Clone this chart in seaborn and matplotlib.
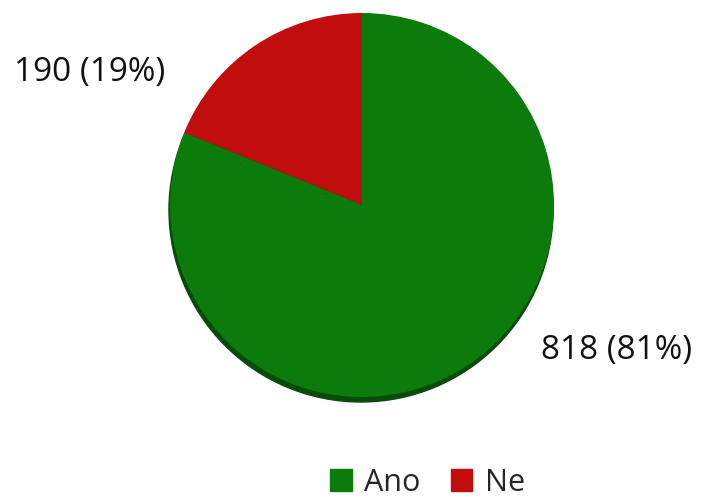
import matplotlib
matplotlib.use("Agg")
import matplotlib.pyplot as plt
from matplotlib.patches import Circle, Patch
import seaborn as sns

categories = ["Ne", "Ano"]
counts = [190, 818]
colors = ["#c10d0d", "#0b7b0b"]

sns.set_theme(style="white")
plt.rcParams["font.family"] = ["Open Sans", "DejaVu Sans"]

W, H = 702, 503
fig = plt.figure(figsize=(W / 100, H / 100), dpi=100)
ax = fig.add_axes([0, 0, 1, 1])

cx, cy, r = 362, H - 205, 192

# thin darker rim below the disc
ax.add_patch(Circle((cx - 1, cy - 5), r, color="#0a4a0a", zorder=1))

wedges, _ = ax.pie(counts, colors=colors, startangle=90, counterclock=True,
                   center=(cx, cy), radius=r, frame=True,
                   wedgeprops=dict(linewidth=0, zorder=2))
ax.set_xlim(0, W)
ax.set_ylim(0, H)
ax.set_aspect("equal")
ax.axis("off")

total = sum(counts)
labels = [f"{c} ({round(100 * c / total)}%)" for c in counts]
ax.text(90, H - 72, labels[0], fontsize=24, color="#111111",
        ha="center", va="center")
ax.text(617, H - 350, labels[1], fontsize=24, color="#111111",
        ha="center", va="center")

handles = [Patch(color=colors[1], label="Ano"), Patch(color=colors[0], label="Ne")]
fig.legend(handles=handles, loc="center", bbox_to_anchor=(0.609, 0.04),
           ncol=2, frameon=False, fontsize=22, handlelength=0.7,
           handleheight=0.7, handletextpad=0.4, columnspacing=1.0,
           borderpad=0.1)

fig.savefig("out.png", dpi=100)
